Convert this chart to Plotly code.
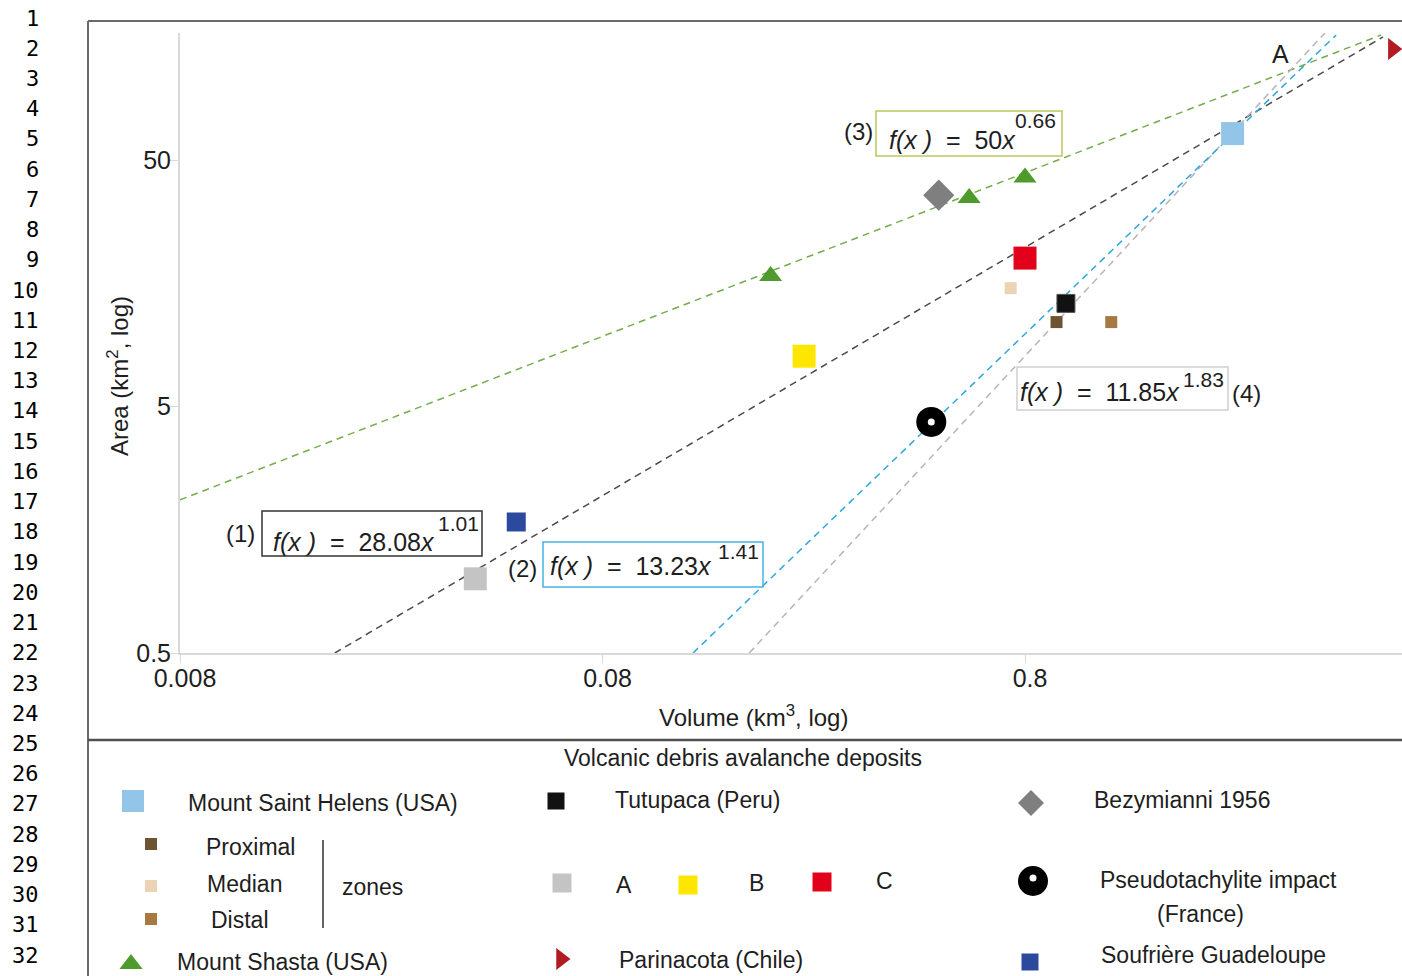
import math
import plotly.graph_objects as go

W, H = 1402, 976
FONT = "Liberation Sans, Arial, sans-serif"
TXT = "#1e1e1e"

# ---------------- data (volume km3, area km2) ----------------
msh_x, msh_y = [2.48], [64.0]                 # Mount Saint Helens
tutu_x, tutu_y = [1.0], [13.1]                # Tutupaca
prox_x, prox_y = [0.95], [11.0]               # Proximal zone
med_x, med_y = [0.74], [15.1]                 # Median zone
dist_x, dist_y = [1.28], [11.0]               # Distal zone
zoneA_x, zoneA_y = [0.040], [1.0]
zoneB_x, zoneB_y = [0.24], [8.0]
zoneC_x, zoneC_y = [0.80], [20.0]
shasta_x, shasta_y = [0.20, 0.59, 0.80], [16.9, 35.1, 42.5]
parin_x, parin_y = [5.94], [141.0]            # Parinacota
bezy_x, bezy_y = [0.50], [36.0]               # Bezymianni 1956
pseudo_x, pseudo_y = [0.48], [4.33]           # Pseudotachylite impact
souf_x, souf_y = [0.050], [1.70]              # Soufriere Guadeloupe

# trend lines (end points)
fit1_x, fit1_y = [0.0186, 5.63], [0.5, 157.8]   # (1) black
fit2_x, fit2_y = [0.131, 4.36], [0.5, 160.7]    # (2) blue
fit3_x, fit3_y = [0.008, 5.57], [2.09, 160.7]   # (3) green
fit4_x, fit4_y = [0.178, 4.10], [0.5, 163.7]    # (4) gray

# equation labels: coefficient, exponent
eq_coef = ["28.08", "13.23", "50", "11.85"]
eq_exp = ["1.01", "1.41", "0.66", "1.83"]

x_ticks = [0.008, 0.08, 0.8]
x_ticklabels = ["0.008", "0.08", "0.8"]
y_ticks = [0.5, 5, 50]
y_ticklabels = ["0.5", "5", "50"]

fig = go.Figure()

def line(x, y, color):
    fig.add_trace(go.Scatter(x=x, y=y, mode="lines", showlegend=False, hoverinfo="skip",
                             line=dict(color=color, width=1.5, dash="7px,5px")))

line(fit3_x, fit3_y, "#74ad4c")
line(fit1_x, fit1_y, "#4a4a4a")
line(fit4_x, fit4_y, "#b9b4b6")
line(fit2_x, fit2_y, "#2ea7dc")

def pts(x, y, symbol, size, color, xa="x", ya="y", lc=None, lw=0):
    fig.add_trace(go.Scatter(x=x, y=y, mode="markers", showlegend=False, hoverinfo="skip",
                             xaxis=xa, yaxis=ya,
                             marker=dict(symbol=symbol, size=size, color=color,
                                         line=dict(color=lc or color, width=lw))))

C_MSH = "#93c5e8"; C_TUTU = "#111111"; C_PROX = "#6e5430"; C_MED = "#ecd3b4"
C_DIST = "#a47a42"; C_A = "#c4c4c4"; C_B = "#ffe600"; C_C = "#e2001a"
C_SHA = "#4e9a2a"; C_PAR = "#b01c22"; C_BEZ = "#7f7f7f"; C_SOU = "#2b4a9e"

pts(shasta_x, shasta_y, "triangle-up", 20, C_SHA)
pts(bezy_x, bezy_y, "diamond", 24, C_BEZ)
pts(msh_x, msh_y, "square", 23, C_MSH)
pts(zoneC_x, zoneC_y, "square", 23, C_C)
pts(zoneB_x, zoneB_y, "square", 23, C_B)
pts(zoneA_x, zoneA_y, "square", 23, C_A)
pts(med_x, med_y, "square", 12, C_MED)
pts(prox_x, prox_y, "square", 12, C_PROX)
pts(dist_x, dist_y, "square", 12, C_DIST)
pts(tutu_x, tutu_y, "square", 18, C_TUTU, lc="#555555", lw=1)
pts(souf_x, souf_y, "square", 19, C_SOU)
pts(parin_x, parin_y, "triangle-right", 19, C_PAR)
pts(pseudo_x, pseudo_y, "circle", 30, "#000000")
pts(pseudo_x, pseudo_y, "circle", 7, "#ffffff")

# ---------------- legend panel (pixel overlay axes) ----------------
def lp(x, y, symbol, size, color, lc=None, lw=0):
    pts([x], [y], symbol, size, color, xa="x2", ya="y2", lc=lc, lw=lw)

lp(133, 801, "square", 22, C_MSH)
lp(151, 844, "square", 12, C_PROX)
lp(151, 886, "square", 12, C_MED)
lp(151, 919, "square", 12, C_DIST)
lp(131, 964, "triangle-up", 20, C_SHA)
lp(556, 801, "square", 17, C_TUTU)
lp(562, 883, "square", 19, C_A)
lp(688, 885, "square", 19, C_B)
lp(822, 882, "square", 19, C_C)
lp(561, 959, "triangle-right", 19, C_PAR)
lp(1031, 803, "diamond", 20, C_BEZ)
lp(1033, 881, "circle", 30, "#000000")
lp(1033, 878, "circle", 7, "#ffffff")
lp(1030, 962, "square", 17, C_SOU)

ann = []
def txt(x, y, s, size=23, xanchor="left", color=TXT, family=FONT, textangle=0):
    ann.append(dict(x=x, y=y, xref="x2", yref="y2", text=s, showarrow=False,
                    xanchor=xanchor, yanchor="middle", textangle=textangle,
                    font=dict(family=family, size=size, color=color)))

txt(743, 758, "Volcanic debris avalanche deposits", xanchor="center")
txt(186, 803, "Mount Saint Helens (USA)")
txt(204, 847, "Proximal")
txt(205, 884, "Median")
txt(209, 920, "Distal")
txt(340, 887, "zones")
txt(175, 962, "Mount Shasta (USA)")
txt(613, 800, "Tutupaca (Peru)")
txt(624, 885, "A", xanchor="center")
txt(756, 883, "B", xanchor="center")
txt(884, 881, "C", xanchor="center")
txt(617, 960, "Parinacota (Chile)")
txt(1092, 800, "Bezymianni 1956")
txt(1218, 880, "Pseudotachylite impact", xanchor="center")
txt(1200, 914, "(France)", xanchor="center")
txt(1099, 955, "Soufrière Guadeloupe")

# axis titles
txt(753, 716, "Volume (km<sup>3</sup>, log)", size=24, xanchor="center")
txt(118, 376, "Area (km<sup>2</sup>, log)", size=24, xanchor="center", textangle=-90)

# equations: (main text x, main y, exponent x, exponent y, number x, number y)
eq_pos = [(271, 542, 436, 523, 240, 533),
          (548, 566, 716, 551, 522, 568),
          (887, 140, 1013, 120, 858, 131),
          (1018, 392, 1181, 379, 1246, 393)]
for k in range(4):
    mx, my, ex, ey, nx, ny = eq_pos[k]
    txt(mx, my, "<i>f(x )</i>  =  " + eq_coef[k] + "<i>x</i>", size=25)
    txt(ex, ey, eq_exp[k], size=21)
    txt(nx, ny, "(%d)" % (k + 1), size=24, xanchor="center")
txt(1280, 54, "A", size=25, xanchor="center")

# line numbers of the source page
for n in range(1, 33):
    txt(41, 18 + 30.23 * (n - 1), str(n), size=22, xanchor="right", color="#000000",
        family="DejaVu Sans Mono, monospace")

shapes = []
def rect(x0, y0, x1, y1, color, w=1.5):
    shapes.append(dict(type="rect", xref="x2", yref="y2", x0=x0, y0=y0, x1=x1, y1=y1,
                       line=dict(color=color, width=w), fillcolor="rgba(0,0,0,0)"))
def seg(x0, y0, x1, y1, color, w=1.5):
    shapes.append(dict(type="line", xref="x2", yref="y2", x0=x0, y0=y0, x1=x1, y1=y1,
                       line=dict(color=color, width=w)))

rect(262, 511, 482, 556, "#333333")
rect(543, 542, 763, 587, "#45b3e3")
rect(876, 111, 1062, 156, "#bcc758")
rect(1017, 367, 1228, 410, "#cfcfcf")
seg(88, 21, W, 21, "#6a6a6a", 2)
seg(88, 21, 88, H, "#6a6a6a", 2)
seg(88, 740, W, 740, "#505050", 2.5)
seg(323, 840, 323, 928, "#333333", 1.5)

ax_common = dict(showgrid=False, zeroline=False, showline=True, linecolor="#d9d9d9",
                 linewidth=2, ticks="outside", ticklen=8, tickcolor="#d9d9d9",
                 automargin=False, ticklabelstandoff=-6,
                 tickfont=dict(family=FONT, size=25, color=TXT))

fig.update_layout(
    template="none",
    width=W, height=H, margin=dict(l=0, r=0, t=0, b=0, pad=0, autoexpand=False),
    paper_bgcolor="white", plot_bgcolor="rgba(0,0,0,0)", showlegend=False,
    xaxis=dict(type="log", domain=[180 / W, 1], anchor="y",
               range=[math.log10(0.008), math.log10(0.008) + (W - 180) / 422.5],
               tickvals=x_ticks, ticktext=x_ticklabels, ticklabelshift=5, **ax_common),
    yaxis=dict(type="log", domain=[(H - 653) / H, (H - 33) / H], anchor="x",
               range=[math.log10(0.5), math.log10(0.5) + 620 / 246.5],
               tickvals=y_ticks, ticktext=y_ticklabels, **ax_common),
    xaxis2=dict(domain=[0, 1], range=[0, W], anchor="y2", visible=False,
                fixedrange=True, automargin=False),
    yaxis2=dict(domain=[0, 1], range=[H, 0], anchor="x2", visible=False,
                fixedrange=True, automargin=False),
    annotations=ann, shapes=shapes,
)

fig.write_html("out.html", config={"displayModeBar": False},
               post_script="document.body.style.margin='0';document.body.style.overflow='hidden';")
